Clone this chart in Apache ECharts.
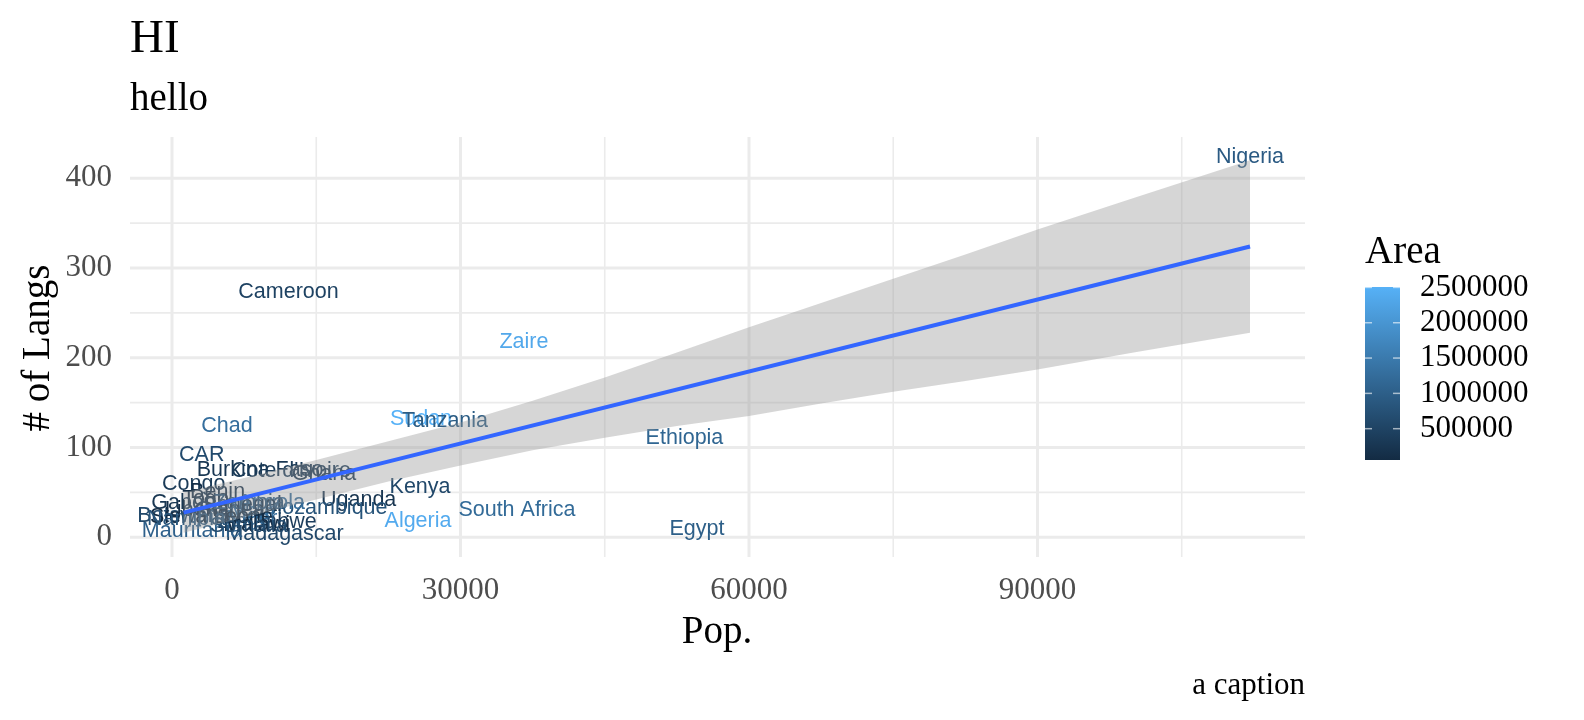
<!DOCTYPE html>
<html>
<head>
<meta charset="utf-8">
<title>HI</title>
<script src="https://cdn.jsdelivr.net/npm/echarts@6/dist/echarts.min.js"></script>
<style>
html, body { margin: 0; padding: 0; background: #fff; overflow: hidden; width: 1584px; height: 720px; }
#main { width: 1584px; height: 720px; }
</style>
</head>
<body>
<div id="main"></div>
<script>
// country labels: population (thousands), number of languages, area (km2)
var countries = ['Sudan', 'Tanzania', 'Nigeria', 'Cameroon', 'Zaire', 'Chad', 'CAR', 'Ethiopia', 'Kenya',
    'Uganda', 'Algeria', 'South Africa', 'Egypt', 'Congo', 'Burkina Faso', "Cote d'Ivoire", 'Ghana',
    'Benin', 'Togo', 'Mozambique', 'Zimbabwe', 'Madagascar', 'Mauritania', 'Gabon', 'Botswana', 'Angola',
    'Mali', 'Niger', 'Senegal', 'Guinea', 'Sierra Leone', 'Liberia', 'Zambia', 'Malawi', 'Somalia', 'Namibia'];
var pop = [25890, 28390, 112100, 12110, 36600, 5720, 3090, 53290, 25790,
    19410, 25580, 35870, 54590, 2250, 9150, 12370, 15800,
    4740, 3500, 16010, 9880, 11700, 2080, 1200, 1300, 10350,
    8000, 8300, 7300, 6000, 4100, 2600, 8000, 8800, 8000, 1500];
var langs = [132, 129, 424, 273, 217, 124, 92, 110, 56,
    41, 18, 30, 9, 59, 75, 74, 70,
    50, 43, 32, 17, 3, 7, 38, 24, 38,
    28, 20, 36, 30, 22, 30, 38, 14, 12, 20];
var area = [2505810, 945087, 923768, 475442, 2345410, 1284000, 622984, 1127127, 582650,
    236040, 2381741, 1219912, 1001449, 342000, 274200, 322462, 238533,
    112622, 56785, 801590, 390580, 587041, 1030700, 267667, 600370, 1246700,
    1240192, 1267000, 196722, 245857, 71740, 111369, 752614, 118484, 637657, 825418];

// lm fit and its confidence band
var fitX = [1200, 112100];
var fitY = [27.4, 324];
var bandX = [1200, 7500, 15000, 22500, 30000, 37500, 45000, 52500, 60000, 67500, 75000, 82500, 90000, 100000, 112100];
var bandLow = [5, 22, 42, 62, 80, 97, 111, 124, 135, 149, 162, 174, 187, 206, 228];
var bandHigh = [50, 66, 86, 107, 128, 152, 178, 206, 234, 261, 288, 315, 343, 378, 420];

// axis ticks
var xTicks = [0, 30000, 60000, 90000];
var xMinor = [15000, 45000, 75000, 105000];
var yTicks = [0, 100, 200, 300, 400];
var yMinor = [50, 150, 250, 350];
var areaTicks = [500000, 1000000, 1500000, 2000000, 2500000];

var areaMin = Math.min.apply(null, area);
var areaMax = Math.max.apply(null, area);

var serif = '"Liberation Serif", "Times New Roman", serif';
var sans = '"Liberation Sans", Arial, sans-serif';

var plain = function (v) { return String(v); };

var chart = echarts.init(document.getElementById('main'));

// vertical / horizontal grid lines drawn through the axes
function gridSeries(values, vertical, width) {
    return {
        type: 'custom',
        xAxisIndex: 0,
        yAxisIndex: 0,
        silent: true,
        z: 1,
        data: values.map(function (v) { return [v]; }),
        encode: vertical ? { x: 0 } : { y: 0 },
        renderItem: function (params, api) {
            var cs = params.coordSys;
            var v = api.value(0);
            var shape;
            if (vertical) {
                var x = api.coord([v, 0])[0];
                shape = { x1: x, y1: cs.y, x2: x, y2: cs.y + cs.height };
            } else {
                var y = api.coord([0, v])[1];
                shape = { x1: cs.x, y1: y, x2: cs.x + cs.width, y2: y };
            }
            return { type: 'line', shape: shape, style: { stroke: '#EBEBEB', lineWidth: width } };
        }
    };
}

var option = {
    backgroundColor: '#fff',
    animation: false,
    grid: [
        { left: 130, top: 137, width: 1175, height: 420 },
        { left: 1365, top: 287, width: 35, height: 173 }
    ],
    xAxis: [
        {
            type: 'value', gridIndex: 0, min: -4370, max: 117820,
            axisLine: { show: false }, axisTick: { show: false }, splitLine: { show: false },
            axisLabel: { customValues: xTicks, formatter: plain, color: '#4D4D4D', fontFamily: serif, fontSize: 31, margin: 18 }
        },
        { type: 'value', gridIndex: 1, min: 0, max: 1, show: false }
    ],
    yAxis: [
        {
            type: 'value', gridIndex: 0, min: -22, max: 446,
            axisLine: { show: false }, axisTick: { show: false }, splitLine: { show: false },
            axisLabel: { customValues: yTicks, formatter: plain, color: '#4D4D4D', fontFamily: serif, fontSize: 31, margin: 18 }
        },
        {
            type: 'value', gridIndex: 1, min: areaMin, max: areaMax, position: 'right',
            axisLine: { show: false }, axisTick: { show: false }, splitLine: { show: false },
            axisLabel: { customValues: areaTicks, formatter: plain, color: '#000', fontFamily: serif, fontSize: 31, margin: 20 }
        }
    ],
    visualMap: {
        show: false,
        type: 'continuous',
        seriesIndex: 4,
        dimension: 2,
        min: areaMin,
        max: areaMax,
        inRange: { color: ['#132B43', '#56B1F7'] }
    },
    series: [
        gridSeries(xMinor, true, 1.6),
        gridSeries(yMinor, false, 1.6),
        gridSeries(xTicks, true, 3),
        gridSeries(yTicks, false, 3),
        {
            // country names coloured by area
            type: 'custom',
            xAxisIndex: 0,
            yAxisIndex: 0,
            z: 2,
            data: countries.map(function (c, i) { return [pop[i], langs[i], area[i]]; }),
            encode: { x: 0, y: 1 },
            renderItem: function (params, api) {
                var p = api.coord([api.value(0), api.value(1)]);
                return {
                    type: 'text',
                    x: p[0],
                    y: p[1],
                    style: {
                        text: countries[params.dataIndex],
                        fill: api.visual('color'),
                        font: '21.5px ' + sans,
                        align: 'center',
                        verticalAlign: 'middle'
                    }
                };
            }
        },
        {
            // confidence band
            type: 'custom',
            xAxisIndex: 0,
            yAxisIndex: 0,
            silent: true,
            z: 3,
            data: [[bandX[0], bandLow[0]]],
            renderItem: function (params, api) {
                var pts = [];
                for (var i = 0; i < bandX.length; i++) pts.push(api.coord([bandX[i], bandHigh[i]]));
                for (var j = bandX.length - 1; j >= 0; j--) pts.push(api.coord([bandX[j], bandLow[j]]));
                return { type: 'polygon', shape: { points: pts }, style: { fill: 'rgba(153,153,153,0.4)' } };
            }
        },
        {
            type: 'line',
            xAxisIndex: 0,
            yAxisIndex: 0,
            z: 4,
            symbol: 'none',
            silent: true,
            data: fitX.map(function (x, i) { return [x, fitY[i]]; }),
            lineStyle: { color: '#3366FF', width: 4 }
        },
        {
            // colour bar
            type: 'custom',
            xAxisIndex: 1,
            yAxisIndex: 1,
            silent: true,
            data: [[0, areaMin]],
            renderItem: function (params, api) {
                var tl = api.coord([0, areaMax]);
                var br = api.coord([1, areaMin]);
                var children = [{
                    type: 'rect',
                    shape: { x: tl[0], y: tl[1], width: br[0] - tl[0], height: br[1] - tl[1] },
                    style: {
                        fill: new echarts.graphic.LinearGradient(0, 0, 0, 1, [
                            { offset: 0, color: '#56B1F7' },
                            { offset: 1, color: '#132B43' }
                        ])
                    }
                }];
                areaTicks.forEach(function (v) {
                    var y = api.coord([0, v])[1];
                    children.push({ type: 'line', shape: { x1: tl[0], y1: y, x2: tl[0] + 7, y2: y },
                        style: { stroke: 'rgba(255,255,255,0.6)', lineWidth: 1.5 } });
                    children.push({ type: 'line', shape: { x1: br[0] - 7, y1: y, x2: br[0], y2: y },
                        style: { stroke: 'rgba(255,255,255,0.6)', lineWidth: 1.5 } });
                });
                return { type: 'group', children: children };
            }
        }
    ],
    graphic: [
        { type: 'text', x: 130, y: 40, style: { text: 'HI', font: '47px ' + serif, fill: '#000', verticalAlign: 'middle' } },
        { type: 'text', x: 130, y: 100, style: { text: 'hello', font: '39px ' + serif, fill: '#000', verticalAlign: 'middle' } },
        { type: 'text', x: 717, y: 633, style: { text: 'Pop.', font: '39px ' + serif, fill: '#000', align: 'center', verticalAlign: 'middle' } },
        { type: 'text', x: 39, y: 348, rotation: Math.PI / 2, style: { text: '# of Langs', font: '39px ' + serif, fill: '#000', align: 'center', verticalAlign: 'middle' } },
        { type: 'text', x: 1305, y: 686, style: { text: 'a caption', font: '31px ' + serif, fill: '#000', align: 'right', verticalAlign: 'middle' } },
        { type: 'text', x: 1365, y: 253, style: { text: 'Area', font: '39px ' + serif, fill: '#000', verticalAlign: 'middle' } }
    ]
};

chart.setOption(option, true);
</script>
</body>
</html>
